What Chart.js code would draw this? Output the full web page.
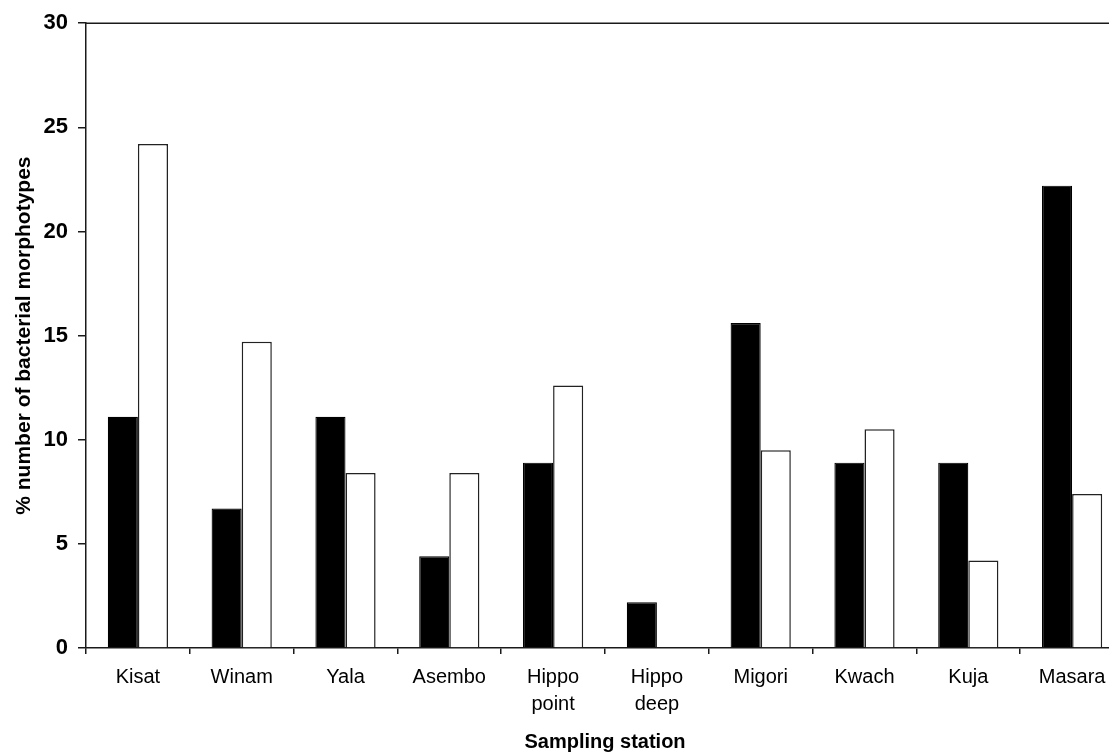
<!DOCTYPE html>
<html>
<head>
<meta charset="utf-8">
<script src="https://cdn.jsdelivr.net/npm/chart.js@4/dist/chart.umd.min.js"></script>
<style>
html,body{margin:0;padding:0;background:#fff;overflow:hidden;}
#wrap{position:relative;width:1130px;height:755px;}
</style>
</head>
<body>
<div id="wrap"><canvas id="c"></canvas></div>
<script>
const categories = [['Kisat'], ['Winam'], ['Yala'], ['Asembo'], ['Hippo', 'point'], ['Hippo', 'deep'], ['Migori'], ['Kwach'], ['Kuja'], ['Masara']];
const blackSeries = [11.1, 6.7, 11.1, 4.4, 8.9, 2.2, 15.6, 8.9, 8.9, 22.2];
const whiteSeries = [24.2, 14.7, 8.4, 8.4, 12.6, 0, 9.5, 10.5, 4.2, 7.4];
const yTicks = [0, 5, 10, 15, 20, 25, 30];
const yTitle = '% number of bacterial morphotypes';
const xTitle = 'Sampling station';

const FONT = '"Liberation Sans", Arial, Helvetica, sans-serif';
const AXIS = '#1a1a1a';

const topLine = {
  id: 'topLine',
  afterDraw(chart) {
    const {ctx, chartArea} = chart;
    ctx.save();
    ctx.strokeStyle = AXIS;
    ctx.lineWidth = 1.5;
    ctx.beginPath();
    ctx.moveTo(chartArea.left, chartArea.top);
    ctx.lineTo(chartArea.right + 10, chartArea.top);
    ctx.stroke();
    ctx.restore();
  }
};

new Chart(document.getElementById('c'), {
  type: 'bar',
  data: {
    labels: categories,
    datasets: [
      {data: blackSeries, backgroundColor: '#000', borderColor: '#000', borderWidth: 1.2},
      {data: whiteSeries, backgroundColor: '#fff', borderColor: '#222', borderWidth: 1.5}
    ]
  },
  plugins: [topLine],
  options: {
    responsive: true,
    maintainAspectRatio: false,
    animation: false,
    layout: {padding: {left: 0, right: 6, top: 23, bottom: 0}},
    plugins: {legend: {display: false}, tooltip: {enabled: false}},
    datasets: {bar: {categoryPercentage: 0.58, barPercentage: 1.0}},
    scales: {
      x: {
        offset: true,
        grid: {display: true, offset: true, drawOnChartArea: false, drawTicks: true, tickLength: 6, color: AXIS, lineWidth: 1.5},
        border: {display: true, color: AXIS, width: 1.5},
        ticks: {color: '#000', font: {family: FONT, size: 20, lineHeight: 1.35}, padding: 10, maxRotation: 0, autoSkip: false},
        title: {display: true, text: xTitle, color: '#000', font: {family: FONT, size: 20, weight: 'bold'}, padding: {top: 0, bottom: 1}},
        afterFit(s) { s.height = 107; }
      },
      y: {
        min: 0, max: 30,
        afterBuildTicks(s) { s.ticks = yTicks.map(v => ({value: v})); },
        grid: {display: true, drawOnChartArea: false, drawTicks: true, tickLength: 8, color: AXIS, lineWidth: 1.5},
        border: {display: true, color: AXIS, width: 1.5},
        ticks: {color: '#000', font: {family: FONT, size: 22, weight: 'bold'}, padding: 10},
        title: {display: true, text: yTitle, color: '#000', font: {family: FONT, size: 21, weight: 'bold'}, padding: {top: 12, bottom: 0}},
        afterFit(s) { s.width = 86; }
      }
    }
  }
});
</script>
</body>
</html>
